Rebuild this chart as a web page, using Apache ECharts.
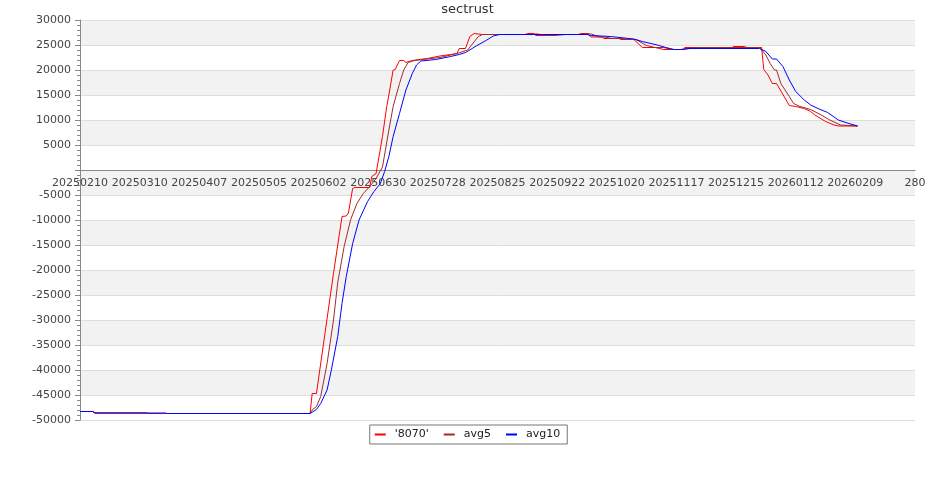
<!DOCTYPE html>
<html>
<head>
<meta charset="utf-8">
<script src="https://cdn.jsdelivr.net/npm/echarts@6/dist/echarts.min.js"></script>
<style>html,body{margin:0;padding:0;background:#fff;}#c{width:935px;height:500px;}</style>
</head>
<body>
<div id="c"></div>
<script>
const chartTitle = 'sectrust';
const seriesNames = ["'8070'", 'avg5', 'avg10'];
const xTickLabels = ['20250210','20250310','20250407','20250505','20250602','20250630','20250728','20250825','20250922','20251020','20251117','20251215','20260112','20260209','280'];
const startDate = '20250210';

const dates8070 = ['20250210','20250216','20250217','20250313','20250314','20250529','20250530','20250601','20250609','20250613','20250615','20250616','20250618','20250619','20250626','20250627','20250629','20250702','20250704','20250705','20250707','20250708','20250710','20250712','20250713','20250716','20250723','20250729','20250803','20250806','20250807','20250810','20250812','20250814','20250816','20250818','20250907','20250908','20250911','20250912','20250921','20250922','20251002','20251003','20251006','20251008','20251013','20251014','20251021','20251022','20251028','20251030','20251101','20251107','20251111','20251120','20251121','20251213','20251214','20251219','20251220','20251227','20251228','20251230','20260101','20260103','20260109','20260112','20260116','20260119','20260121','20260126','20260130','20260201','20260210'];
const values8070 = [-48300,-48300,-48600,-48600,-48700,-48700,-44700,-44700,-20700,-9300,-9200,-8600,-3700,-3500,-3500,-1300,-700,6700,12700,15000,20000,20100,21900,21900,21500,21900,22300,22800,23100,23300,24300,24300,26700,27300,27200,27100,27100,27300,27300,26900,26900,27100,27100,27300,27300,26600,26600,26300,26300,26100,26100,25300,24500,24500,24100,24100,24500,24500,24700,24700,24500,24500,20100,19000,17300,17300,12900,12700,12300,11700,11000,9700,9000,8800,8800];

const datesAvg5 = ['20250210','20250216','20250217','20250313','20250314','20250529','20250530','20250601','20250603','20250606','20250609','20250611','20250614','20250617','20250620','20250623','20250626','20250629','20250702','20250705','20250707','20250710','20250712','20250714','20250717','20250729','20250806','20250811','20250816','20250818','20250908','20250911','20250913','20250916','20250921','20250926','20251003','20251006','20251008','20251012','20251014','20251018','20251022','20251026','20251029','20251103','20251107','20251111','20251115','20251121','20251125','20251226','20251229','20251231','20260102','20260103','20260105','20260109','20260111','20260114','20260119','20260124','20260128','20260202','20260210'];
const valuesAvg5 = [-48300,-48300,-48600,-48600,-48700,-48700,-48000,-47300,-45300,-38700,-30000,-22500,-15300,-10000,-6700,-4700,-3300,-1700,600,8000,12700,17300,20000,21500,21900,22500,23300,24000,26700,27100,27100,27200,27200,26900,26900,27100,27100,27300,27200,26600,26600,26300,26300,26100,26100,24900,24500,24500,24100,24100,24500,24500,23000,21300,20000,20000,17300,14700,13300,12700,12100,11000,10000,9000,8800];

const datesAvg10 = ['20250210','20250216','20250217','20250322','20250323','20250529','20250601','20250603','20250606','20250608','20250611','20250613','20250615','20250618','20250621','20250625','20250628','20250701','20250703','20250705','20250707','20250710','20250713','20250716','20250718','20250720','20250727','20250803','20250807','20250810','20250815','20250820','20250823','20250826','20251006','20251008','20251017','20251028','20251101','20251108','20251112','20251116','20251119','20251122','20251226','20251229','20260101','20260103','20260106','20260109','20260112','20260116','20260119','20260123','20260127','20260201','20260206','20260210'];
const valuesAvg10 = [-48300,-48300,-48600,-48600,-48700,-48700,-47900,-46700,-44000,-40000,-33300,-26700,-21300,-14700,-10000,-6300,-4300,-2700,-300,2700,6700,11300,16000,19300,21000,21800,22100,22700,23100,23500,24800,26000,26800,27100,27100,26900,26700,26200,25700,25000,24500,24100,24100,24300,24300,23700,22200,22200,20700,18000,15700,14000,13000,12200,11500,10000,9300,8800];

const yMin = -50000, yMax = 30000, yStep = 5000;

function toUTC(s){ return Date.UTC(+s.slice(0,4), +s.slice(4,6)-1, +s.slice(6,8)); }
function dayIndex(s){ return Math.round((toUTC(s) - toUTC(startDate)) / 86400000); }
function pairs(ds, vs){ return ds.map((d,i)=>[dayIndex(d), vs[i]]); }

const FONT = 'DejaVu Sans';
const GRID = { left: 80, right: 20, top: 20, bottom: 80 };
const plotH = 500 - GRID.top - GRID.bottom;
// place the x axis at the y = 0 line
const xAxisOffset = -plotH * (0 - yMin) / (yMax - yMin);

const chart = echarts.init(document.getElementById('c'), null, {renderer:'canvas'});
chart.setOption({
  animation: false,
  backgroundColor: '#ffffff',
  title: { text: chartTitle, left: 'center', top: 0, padding: [3, 5], textStyle: { fontSize: 13, fontWeight: 'normal', color: '#333', fontFamily: FONT } },
  legend: {
    top: 425, left: 'center',
    data: seriesNames,
    icon: 'rect', itemWidth: 11, itemHeight: 2, itemGap: 15,
    padding: [4, 7, 4, 5],
    borderColor: '#777', borderWidth: 1,
    textStyle: { fontSize: 11, color: '#222', fontFamily: FONT, padding: [0,0,0,4] }
  },
  grid: GRID,
  xAxis: {
    type: 'value', min: 0, max: 28 * (xTickLabels.length - 1), interval: 28,
    position: 'bottom', offset: xAxisOffset,
    axisLine: { onZero: false, lineStyle: { color: '#888' } },
    axisTick: { show: false },
    splitLine: { show: false },
    axisLabel: { color: '#444', fontSize: 11, fontFamily: FONT, margin: 8, showMinLabel: true, showMaxLabel: true,
      formatter: v => xTickLabels[Math.round(v / 28)] || '' }
  },
  yAxis: {
    type: 'value', min: yMin, max: yMax, interval: yStep,
    axisLine: { show: true, lineStyle: { color: '#888' } },
    axisTick: { show: true, length: 5, lineStyle: { color: '#888' } },
    minorTick: { show: true, splitNumber: 5, length: 3, lineStyle: { color: '#888' } },
    splitLine: { show: true, lineStyle: { color: '#dddddd' } },
    splitArea: { show: true, areaStyle: { color: ['#ffffff', '#f2f2f2'] } },
    axisLabel: { color: '#444', fontSize: 11, fontFamily: FONT, margin: 9, formatter: v => v === 0 ? '' : String(v) }
  },
  series: [
    { name: seriesNames[0], type: 'line', data: pairs(dates8070, values8070), showSymbol: false, symbol: 'none', color: '#ff0000', lineStyle: { width: 1, color: '#ff0000' } },
    { name: seriesNames[1], type: 'line', data: pairs(datesAvg5, valuesAvg5), showSymbol: false, symbol: 'none', color: '#a52a2a', lineStyle: { width: 1, color: '#a52a2a' } },
    { name: seriesNames[2], type: 'line', data: pairs(datesAvg10, valuesAvg10), showSymbol: false, symbol: 'none', color: '#0000ff', lineStyle: { width: 1, color: '#0000ff' } }
  ]
});
</script>
</body>
</html>
